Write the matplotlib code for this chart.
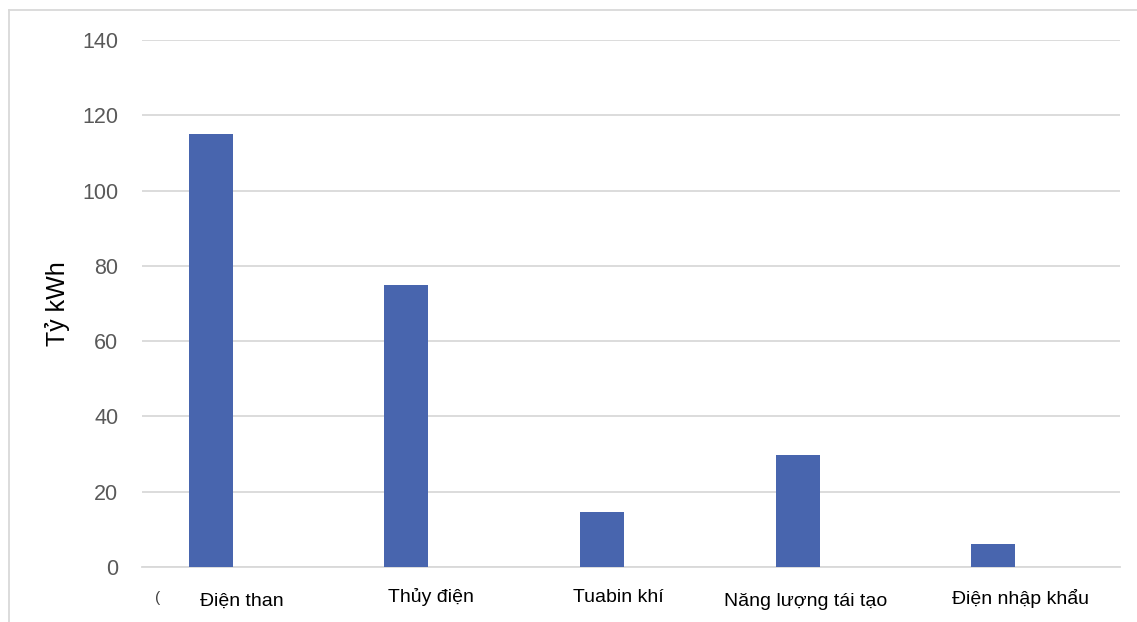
import matplotlib.pyplot as plt
import matplotlib.transforms as mtransforms
from matplotlib.lines import Line2D
import numpy as np

plt.rcParams['font.family'] = ['Liberation Sans', 'DejaVu Sans']

categories = ['Điện than', 'Thủy điện', 'Tuabin khí', 'Năng lượng tái tạo', 'Điện nhập khẩu']
values = [115, 75, 14.7, 29.8, 6.1]
yticks = [0, 20, 40, 60, 80, 100, 120, 140]

bar_color = '#4865AE'
grid_color = '#D9D9D9'

fig = plt.figure(figsize=(11.37, 6.22), dpi=100)
ax = fig.add_axes([0.1249, 0.0884, 0.8602, 0.8473])

x = np.arange(len(categories))
ax.bar(x - 0.148, values, width=0.225, color=bar_color, zorder=3)

ax.set_xlim(-0.5, len(categories) - 0.5)
ax.set_ylim(0, 140)
ax.set_yticks(yticks)
ax.set_yticklabels([str(v) for v in yticks], fontsize=15.5, color='#595959')
ax.tick_params(axis='y', length=0, pad=17)
ax.set_xticks([])
ax.grid(axis='y', color=grid_color, linewidth=1.3, zorder=0)
for side in ['top', 'right', 'left']:
    ax.spines[side].set_visible(False)
ax.spines['bottom'].set_color(grid_color)
ax.spines['bottom'].set_linewidth(1.3)

ax.set_ylabel('Tỷ kWh', fontsize=18, color='black', labelpad=9)

# category captions sit as loose text boxes under the axis
trans = mtransforms.blended_transform_factory(ax.transData, fig.transFigure)
label_dx = [0.011, -0.022, -0.066, -0.105, -0.011]
label_py = [601, 597, 598, 602, 598]
for i, (name, dx, py) in enumerate(zip(categories, label_dx, label_py)):
    ax.text(i + dx, 1 - py / 622, name, transform=trans, ha='center', va='center',
            fontsize=14, color='black', clip_on=False)
fig.text(158 / 1137, 1 - 598 / 622, '(', fontsize=11, color='#404040', ha='center', va='center')

# outer chart frame (top and left edges)
fig.add_artist(Line2D([9 / 1137, 1.0], [1 - 10 / 622, 1 - 10 / 622],
                      transform=fig.transFigure, color=grid_color, linewidth=1.3))
fig.add_artist(Line2D([9 / 1137, 9 / 1137], [0.0, 1 - 10 / 622],
                      transform=fig.transFigure, color=grid_color, linewidth=1.3))

fig.savefig('out.png', dpi=100)
